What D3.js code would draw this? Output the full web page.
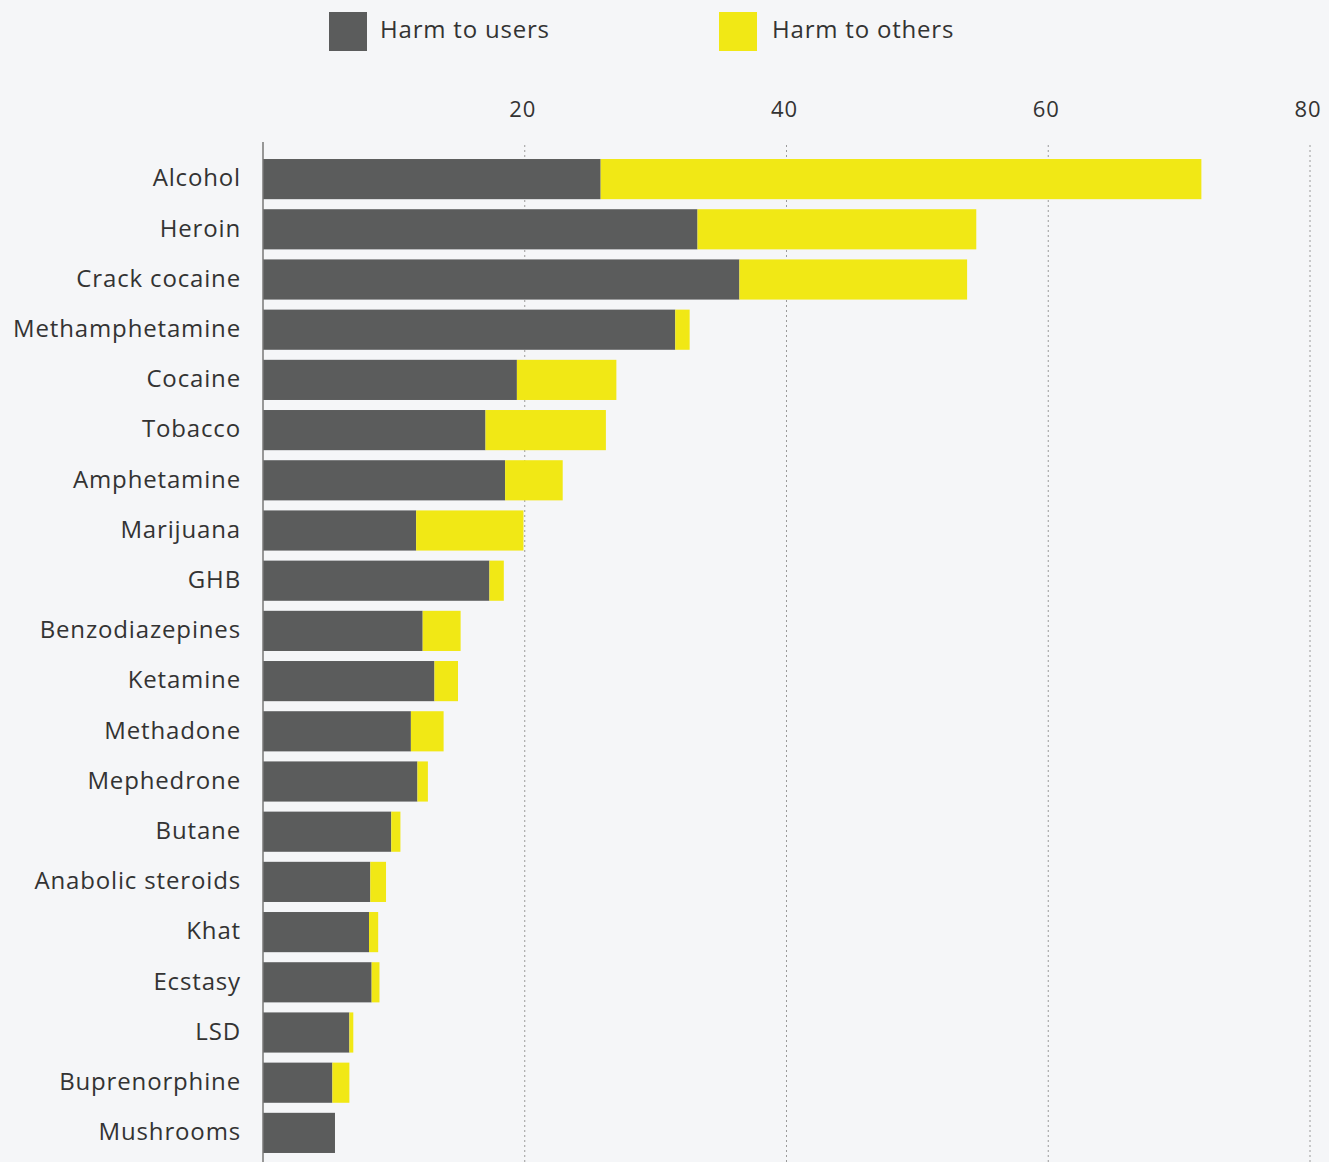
<!DOCTYPE html>
<html>
<head>
<meta charset="utf-8">
<script src="https://cdn.jsdelivr.net/npm/d3@7"></script>
<style>
  html, body { margin: 0; padding: 0; background: #f5f6f8; }
  svg { display: block; }
</style>
</head>
<body>
<svg id="chart"></svg>
<script>
const drugs = ["Alcohol", "Heroin", "Crack cocaine", "Methamphetamine", "Cocaine", "Tobacco",
  "Amphetamine", "Marijuana", "GHB", "Benzodiazepines", "Ketamine", "Methadone", "Mephedrone",
  "Butane", "Anabolic steroids", "Khat", "Ecstasy", "LSD", "Buprenorphine", "Mushrooms"];
const harmToUsers = [25.8, 33.2, 36.4, 31.5, 19.4, 17.0, 18.5, 11.7, 17.3, 12.2, 13.1, 11.3, 11.8,
  9.8, 8.2, 8.1, 8.3, 6.6, 5.3, 5.5];
const harmToOthers = [45.9, 21.3, 17.4, 1.1, 7.6, 9.2, 4.4, 8.2, 1.1, 2.9, 1.8, 2.5, 0.8,
  0.7, 1.2, 0.7, 0.6, 0.3, 1.3, 0];
const tickValues = [20, 40, 60, 80];
const seriesNames = ["Harm to users", "Harm to others"];
const colors = ["#5b5c5c", "#f1e815"];

const width = 1329, height = 1162;
const svg = d3.select("#chart").attr("width", width).attr("height", height);

let rows = drugs.map((d, i) => ({ name: d, users: harmToUsers[i], others: harmToOthers[i] }));

let x = d3.scaleLinear().domain([0, 80]).range([263, 1310]);
let y = d3.scaleBand().domain(drugs).range([154, 1158]).paddingInner(0.2).paddingOuter(0.1);

// gridlines
svg.append("g")
  .selectAll("line")
  .data(tickValues)
  .enter()
  .append("line")
  .attr("x1", d => x(d))
  .attr("x2", d => x(d))
  .attr("y1", 145)
  .attr("y2", height)
  .attr("stroke", "#9a9a9a")
  .attr("stroke-width", 1)
  .attr("stroke-dasharray", "2,3");

// tick labels
svg.append("g")
  .selectAll("text")
  .data(tickValues)
  .enter()
  .append("text")
  .attr("x", d => x(d) - 2)
  .attr("y", 117)
  .attr("text-anchor", "middle")
  .attr("font-family", "Open Sans, sans-serif")
  .attr("font-size", "22px")
  .attr("letter-spacing", "1px")
  .attr("fill", "#333")
  .text(d => d);

// stacked bars
let stack = d3.stack().keys(["users", "others"])(rows);
svg.append("g")
  .selectAll("g")
  .data(stack)
  .enter()
  .append("g")
  .attr("fill", (s, i) => colors[i])
  .selectAll("rect")
  .data(s => s)
  .enter()
  .append("rect")
  .attr("x", d => x(d[0]))
  .attr("y", d => y(d.data.name))
  .attr("width", d => Math.max(0, x(d[1]) - x(d[0])))
  .attr("height", y.bandwidth());

// axis line
svg.append("line")
  .attr("x1", 263).attr("x2", 263)
  .attr("y1", 142).attr("y2", height)
  .attr("stroke", "#777")
  .attr("stroke-width", 1.5);

// category labels
svg.append("g")
  .selectAll("text")
  .data(drugs)
  .enter()
  .append("text")
  .attr("x", 241)
  .attr("y", d => y(d) + y.bandwidth() / 2)
  .attr("dy", "0.3em")
  .attr("text-anchor", "end")
  .attr("font-family", "Open Sans, sans-serif")
  .attr("font-size", "24px")
  .attr("letter-spacing", "0.85px")
  .attr("fill", "#333")
  .text(d => d);

// legend
let legendX = [329, 719];
let legend = svg.append("g")
  .selectAll("g")
  .data(seriesNames)
  .enter()
  .append("g")
  .attr("transform", (d, i) => "translate(" + legendX[i] + ",12)");
legend.append("rect")
  .attr("width", 38)
  .attr("height", 39)
  .attr("fill", (d, i) => colors[i]);
legend.append("text")
  .attr("x", (d, i) => i === 0 ? 51 : 53)
  .attr("y", 26)
  .attr("font-family", "Open Sans, sans-serif")
  .attr("font-size", "24px")
  .attr("letter-spacing", "0.8px")
  .attr("fill", "#333")
  .text(d => d);
</script>
</body>
</html>
